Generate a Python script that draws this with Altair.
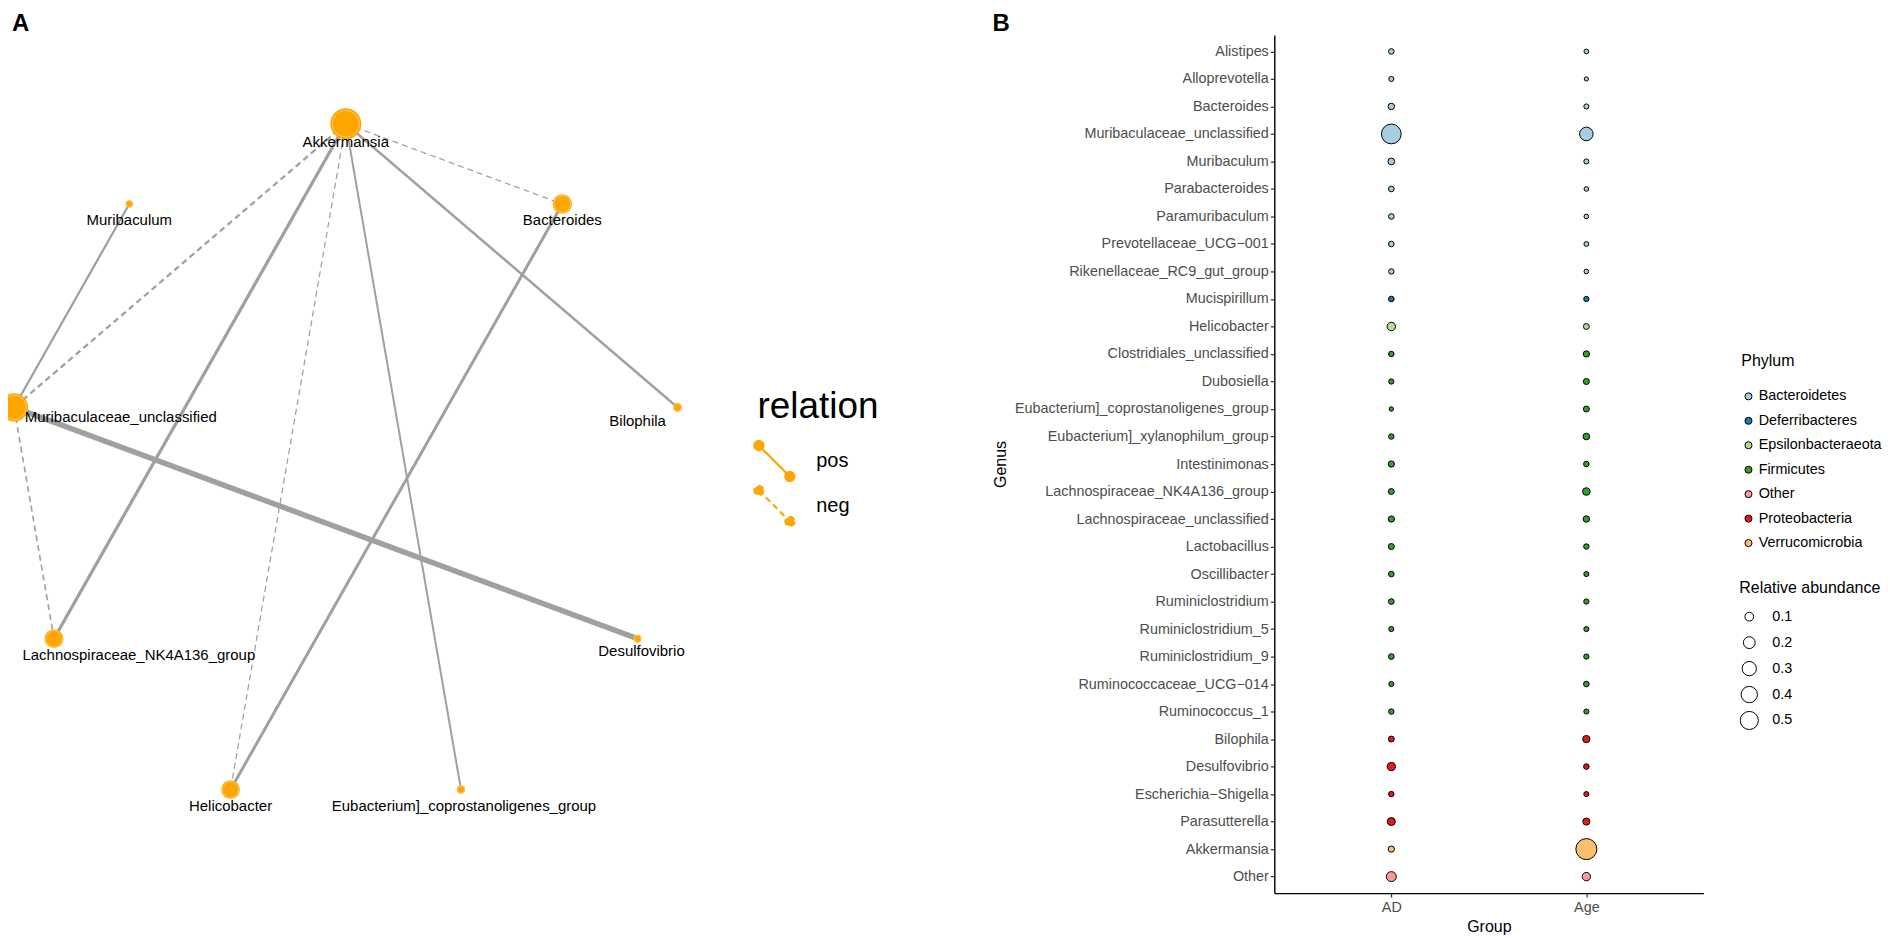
import math
import altair as alt
import pandas as pd

FONT = "Liberation Sans"

# ---------------- Panel A: correlation network ----------------
net_nodes = ["Akkermansia", "Bacteroides", "Bilophila", "Desulfovibrio",
             "Eubacterium]_coprostanoligenes_group", "Helicobacter",
             "Lachnospiraceae_NK4A136_group", "Muribaculaceae_unclassified", "Muribaculum"]
net_node_value = [0.96, 0.38, 0.078, 0.064, 0.072, 0.35, 0.36, 0.80, 0.055]

edge_from = ["Akkermansia", "Akkermansia", "Akkermansia", "Akkermansia", "Akkermansia",
             "Akkermansia", "Muribaculum", "Bacteroides", "Muribaculaceae_unclassified",
             "Muribaculaceae_unclassified"]
edge_to = ["Bacteroides", "Muribaculaceae_unclassified", "Lachnospiraceae_NK4A136_group",
           "Helicobacter", "Eubacterium]_coprostanoligenes_group", "Bilophila",
           "Muribaculaceae_unclassified", "Helicobacter", "Desulfovibrio",
           "Lachnospiraceae_NK4A136_group"]
edge_relation = ["neg", "neg", "pos", "neg", "pos", "pos", "pos", "pos", "pos", "neg"]
edge_corr = [0.62, 0.70, 0.78, 0.62, 0.68, 0.72, 0.70, 0.76, 0.96, 0.65]

# repel-like label nudges (px)
label_nudge_x = [0, 0, -40, 4, 3, 0, 85, 107, 0]
label_nudge_y = [2, 0, -2, -4, 0, 0, 0, -6, 0]

# ---------------- Panel B: bubble plot ----------------
genus = ["Alistipes", "Alloprevotella", "Bacteroides", "Muribaculaceae_unclassified",
         "Muribaculum", "Parabacteroides", "Paramuribaculum", "Prevotellaceae_UCG\u2212001",
         "Rikenellaceae_RC9_gut_group", "Mucispirillum", "Helicobacter",
         "Clostridiales_unclassified", "Dubosiella", "Eubacterium]_coprostanoligenes_group",
         "Eubacterium]_xylanophilum_group", "Intestinimonas", "Lachnospiraceae_NK4A136_group",
         "Lachnospiraceae_unclassified", "Lactobacillus", "Oscillibacter", "Ruminiclostridium",
         "Ruminiclostridium_5", "Ruminiclostridium_9", "Ruminococcaceae_UCG\u2212014",
         "Ruminococcus_1", "Bilophila", "Desulfovibrio", "Escherichia\u2212Shigella",
         "Parasutterella", "Akkermansia", "Other"]
genus_phylum = (["Bacteroidetes"] * 9 + ["Deferribacteres", "Epsilonbacteraeota"]
                + ["Firmicutes"] * 14 + ["Proteobacteria"] * 4 + ["Verrucomicrobia", "Other"])
abund_AD = [0.028, 0.019, 0.044, 0.60, 0.051, 0.028, 0.028, 0.028, 0.025, 0.028, 0.093,
            0.025, 0.022, 0.008, 0.025, 0.040, 0.034, 0.040, 0.036, 0.028, 0.030, 0.019,
            0.030, 0.019, 0.025, 0.034, 0.084, 0.025, 0.079, 0.040, 0.135]
abund_Age = [0.014, 0.006, 0.019, 0.27, 0.019, 0.012, 0.012, 0.015, 0.012, 0.022, 0.034,
             0.040, 0.036, 0.034, 0.048, 0.025, 0.070, 0.044, 0.025, 0.019, 0.022, 0.019,
             0.022, 0.028, 0.019, 0.062, 0.028, 0.019, 0.058, 0.68, 0.09]
groups = ["AD", "Age"]
phyla = ["Bacteroidetes", "Deferribacteres", "Epsilonbacteraeota", "Firmicutes", "Other",
         "Proteobacteria", "Verrucomicrobia"]
phyla_colors = ["#A6CEE3", "#1F78B4", "#B2DF8A", "#33A02C", "#FB9A99", "#E31A1C", "#FDBF6F"]
size_breaks = [0.1, 0.2, 0.3, 0.4, 0.5]

# ---------------- layout numbers ----------------
A_W, PLOT_H = 900, 860
B_W = 430
SPACING = 369
B_LEFT = A_W + SPACING          # panel B origin, in root coordinates
SX, SY = 337.6, 344.0          # px per layout unit
X_MIN = -338.5 / SX
Y_MAX = 433.0 / SY

# circular layout (like igraph layout_in_circle)
n = len(net_nodes)
theta = [math.pi / 2 - 2 * math.pi * i / n for i in range(n)]
nx = [math.cos(t) for t in theta]
ny = [math.sin(t) for t in theta]
nodes_df = pd.DataFrame({
    "name": net_nodes, "value": net_node_value, "x": nx, "y": ny,
    "lx": [x + d / SX for x, d in zip(nx, label_nudge_x)],
    "ly": [y - d / SY for y, d in zip(ny, label_nudge_y)],
})
pos = {nm: (x, y) for nm, x, y in zip(net_nodes, nx, ny)}
edges_df = pd.DataFrame({
    "from": edge_from, "to": edge_to, "relation": edge_relation, "corr": edge_corr,
    "x": [pos[a][0] for a in edge_from], "y": [pos[a][1] for a in edge_from],
    "x2": [pos[b][0] for b in edge_to], "y2": [pos[b][1] for b in edge_to],
    "kind": ["edge"] * len(edge_from),
})

xs = alt.Scale(domain=[X_MIN, X_MIN + A_W / SX], nice=False, zero=False)
ys = alt.Scale(domain=[Y_MAX - PLOT_H / SY, Y_MAX], nice=False, zero=False)

LEG_PATH = ("M-1,-1L1,1"
            "M-0.71,-1A0.29,0.29 0 1 1 -1.29,-1A0.29,0.29 0 1 1 -0.71,-1Z"
            "M1.29,1A0.29,0.29 0 1 1 0.71,1A0.29,0.29 0 1 1 1.29,1Z")

edges = alt.Chart(edges_df).mark_rule().encode(
    x=alt.X("x:Q", scale=xs, axis=None),
    y=alt.Y("y:Q", scale=ys, axis=None),
    x2="x2:Q", y2="y2:Q",
    stroke=alt.Stroke("kind:N", scale=alt.Scale(range=["#a0a0a0"]), legend=None),
    strokeWidth=alt.StrokeWidth("corr:Q", scale=alt.Scale(domain=[0.6, 1.0], range=[1, 6]),
                                legend=None),
    strokeDash=alt.StrokeDash(
        "relation:N",
        scale=alt.Scale(domain=["pos", "neg"], range=[[1, 0], [6, 4]]),
        legend=alt.Legend(
            title="relation", orient="none", legendX=751, legendY=355,
            symbolType=LEG_PATH, symbolSize=961, symbolStrokeColor="#FFA500",
            symbolFillColor="#FFA500", symbolStrokeWidth=2.2,
            titleFont=FONT, titleFontSize=37, titleFontWeight="normal", titleColor="black",
            titlePadding=18, labelFont=FONT, labelFontSize=20, labelColor="black",
            labelOffset=25, rowPadding=-5, padding=0),
    ),
)

nodes = alt.Chart(nodes_df).mark_circle(color="#FFA500", opacity=1, clip=True).encode(
    x=alt.X("x:Q", scale=xs, axis=None),
    y=alt.Y("y:Q", scale=ys, axis=None),
    size=alt.Size("value:Q", scale=alt.Scale(domain=[0, 1], range=[0, 1000]), legend=None),
)
rings = alt.Chart(nodes_df).mark_point(shape="circle", filled=False, stroke="#FFD27A",
                                       strokeWidth=0.8, opacity=1, clip=True).encode(
    x=alt.X("x:Q", scale=xs, axis=None),
    y=alt.Y("y:Q", scale=ys, axis=None),
    size=alt.Size("value:Q", scale=alt.Scale(domain=[0, 1], range=[0, 760]), legend=None),
)
labels = alt.Chart(nodes_df).mark_text(dy=16, fontSize=15, font=FONT, color="black").encode(
    x=alt.X("lx:Q", scale=xs, axis=None),
    y=alt.Y("ly:Q", scale=ys, axis=None),
    text="name:N",
)

panelA = alt.layer(edges, nodes, rings, labels).resolve_scale(size="independent").properties(
    width=A_W, height=PLOT_H,
    title=alt.TitleParams("A", anchor="start", fontSize=24, fontWeight="bold", font=FONT,
                          color="black", dx=4, offset=-1),
)

# ---------------- Panel B ----------------
rows = []
for g, ph, a, b in zip(genus, genus_phylum, abund_AD, abund_Age):
    rows.append({"Genus": g, "Phylum": ph, "Group": "AD", "abundance": a})
    rows.append({"Genus": g, "Phylum": ph, "Group": "Age", "abundance": b})
dfB = pd.DataFrame(rows)

axis_common = dict(domainColor="black", domainWidth=1.4, tickColor="#333333", tickWidth=1.2,
                   tickSize=4, labelFont=FONT, labelFontSize=14.4, labelColor="#4d4d4d",
                   labelLimit=400, maxExtent=400, titleFont=FONT, titleFontSize=16,
                   titleFontWeight="normal", titleColor="black", grid=False)

panelB = alt.Chart(dfB).mark_point(shape="circle", filled=True, stroke="black",
                                   strokeWidth=1, opacity=1).encode(
    x=alt.X("Group:N", sort=groups, scale=alt.Scale(type="point", padding=0.6),
            axis=alt.Axis(title="Group", labelAngle=0, labelPadding=3, titlePadding=5,
                          **axis_common)),
    y=alt.Y("Genus:N", sort=genus, scale=alt.Scale(type="point", padding=0.6),
            axis=alt.Axis(title="Genus", labelPadding=2, titlePadding=6, **axis_common)),
    fill=alt.Fill("Phylum:N", scale=alt.Scale(domain=phyla, range=phyla_colors),
                  legend=alt.Legend(title="Phylum", orient="none", legendX=B_LEFT + 468,
                                    legendY=319, titleFont=FONT, titleFontSize=16,
                                    titleFontWeight="normal", titleColor="black",
                                    titlePadding=20, labelFont=FONT, labelFontSize=14.4,
                                    labelColor="black", symbolSize=50, symbolStrokeWidth=1,
                                    labelOffset=3, rowPadding=9.5, padding=0,
                                    symbolType="circle")),
    size=alt.Size("abundance:Q", scale=alt.Scale(domain=[0, 0.5], range=[14, 330]),
                  legend=alt.Legend(title="Relative abundance", orient="none",
                                    legendX=B_LEFT + 466, legendY=546, values=size_breaks,
                                    titleFont=FONT, titleFontSize=16, titleFontWeight="normal",
                                    titleColor="black", titlePadding=10, labelFont=FONT,
                                    labelFontSize=14.4, labelColor="black",
                                    symbolFillColor="white", symbolStrokeColor="black",
                                    symbolStrokeWidth=1, clipHeight=22, rowPadding=4,
                                    labelOffset=13, padding=0, symbolType="circle")),
).properties(
    width=B_W, height=PLOT_H,
    title=alt.TitleParams("B", anchor="start", frame="bounds", fontSize=24, fontWeight="bold",
                          font=FONT, color="black", offset=-1),
)

chart = alt.hconcat(panelA, panelB, spacing=SPACING, bounds="flush").properties(
    padding={"top": 3, "left": 0, "right": 0, "bottom": 0}
).configure_view(stroke=None)

chart.save("out.html", embed_options={"renderer": "svg", "actions": False})
